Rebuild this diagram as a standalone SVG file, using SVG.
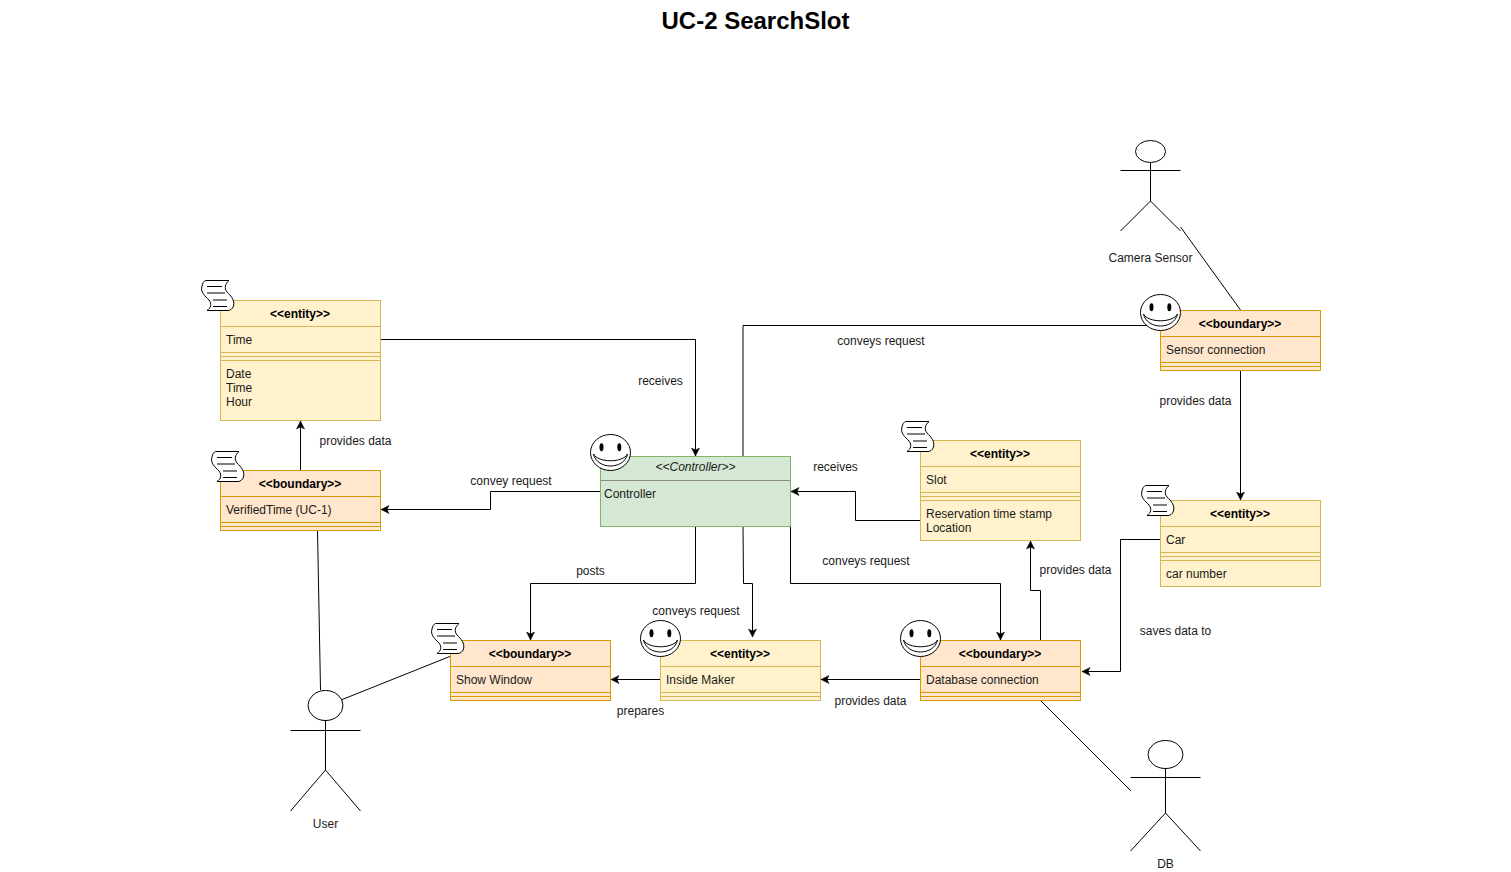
<svg xmlns="http://www.w3.org/2000/svg" width="1511" height="872" viewBox="0 0 1511 872">
<style>
text{font-family:"Liberation Sans",Arial,sans-serif;font-size:12px;fill:#1a1a1a}
.b{font-weight:bold;fill:#000;text-anchor:middle}
.e{fill:#fff2cc;stroke:#d6b656}
.o{fill:#ffe6cc;stroke:#d79b00}
.g{fill:#d5e8d4;stroke:#82b366}
.ln{fill:none;stroke:#000}
.act{fill:#fff;stroke:#000}
.c{text-anchor:middle}
</style>
<defs>
<marker id="a" markerUnits="userSpaceOnUse" markerWidth="12" markerHeight="12" refX="8.500" refY="5" orient="auto"><path d="M.5 1L8.500 5L.5 9L2.500 5Z" fill="#000" stroke="#000" stroke-width=".5"/></marker>
<symbol id="scroll" width="34" height="32" viewBox="0 0 34 32" overflow="visible">
<path d="M4.5 .5H28C24 4 23 8 26 12C30 16 34 20 32.500 26C31.500 29 29 30.500 27 30.500H6C10 28 11 24 8 20C4 16-1 12 1 6C1.500 3 3 1 4.500 .5Z" fill="#fff" stroke="#000"/>
<path d="M6 6.500H21M6 13H24M12 20H26M12 26.500H26" fill="none" stroke="#000"/>
</symbol>
<symbol id="smile" width="42" height="38" viewBox="0 0 42 38" overflow="visible">
<ellipse cx="20.500" cy="18.500" rx="20" ry="18" fill="#fff" stroke="#000"/>
<ellipse cx="11.500" cy="13.300" rx="2" ry="4" fill="#000"/><ellipse cx="29.300" cy="13.300" rx="2" ry="4" fill="#000"/>
<path d="M3.500 20C7 36 34 36 37.500 20C33 29 8 29 3.500 20Z" fill="#fff" stroke="#000"/>
</symbol>
</defs>
<text x="755.500" y="29" class="b" style="font-size:24px">UC-2 SearchSlot</text>
<g id="connectors">
<path class="ln" d="M380.500 339.500H695.500V456" marker-end="url(#a)"/>
<path class="ln" d="M300.500 470V421" marker-end="url(#a)"/>
<path class="ln" d="M600.500 491.500H490.500V509.500H381" marker-end="url(#a)"/>
<path class="ln" d="M695.500 526V583.500H530.500V640" marker-end="url(#a)"/>
<path class="ln" d="M743 526L743.500 583.500H752.500V637" marker-end="url(#a)"/>
<path class="ln" d="M790.500 526V583.500H1000.500V640" marker-end="url(#a)"/>
<path class="ln" d="M743 456V325.500H1160"/>
<path class="ln" d="M920.500 520.500H855.500V491.500H791" marker-end="url(#a)"/>
<path class="ln" d="M1040.500 640V590.500H1030.500V541" marker-end="url(#a)"/>
<path class="ln" d="M1240.500 370V500" marker-end="url(#a)"/>
<path class="ln" d="M1160 539.500H1120.500V671.500H1082" marker-end="url(#a)"/>
<path class="ln" d="M920 679.500H821" marker-end="url(#a)"/>
<path class="ln" d="M660 679.500H611" marker-end="url(#a)"/>
<path class="ln" d="M1240.500 310L1182 229L1180.500 227"/>
<path class="ln" d="M317.500 530L320.500 690"/>
<path class="ln" d="M451 656L341 700"/>
<path class="ln" d="M1040 700L1131 791"/>
</g>
<g id="node-time">
<rect class="e" x="220.500" y="300.500" width="160" height="120"/>
<path class="e" d="M220.500 326.500H380.500M220.500 352.500H380.500M220.500 356.500H380.500M220.500 360.500H380.500"/>
<text x="300" y="318" class="b">&lt;&lt;entity&gt;&gt;</text>
<text x="226" y="344">Time</text>
<text x="226" y="378">Date</text><text x="226" y="392">Time</text><text x="226" y="406">Hour</text>
<use href="#scroll" x="201" y="280"/>
</g>
<g id="node-verified">
<rect class="o" x="220.500" y="470.500" width="160" height="60"/>
<path class="o" d="M220.500 496.500H380.500M220.500 522.500H380.500M220.500 526.500H380.500"/>
<text x="300" y="488" class="b">&lt;&lt;boundary&gt;&gt;</text>
<text x="226" y="514">VerifiedTime (UC-1)</text>
<use href="#scroll" x="211" y="451"/>
</g>
<g id="node-controller">
<rect class="g" x="600.500" y="456.500" width="190" height="70"/>
<path d="M601 480.500H790" stroke="#888" fill="none"/>
<text x="695.500" y="471" class="c" font-style="italic">&lt;&lt;Controller&gt;&gt;</text>
<text x="604" y="498">Controller</text>
<use href="#smile" x="590" y="434"/>
</g>
<g id="node-slot">
<rect class="e" x="920.500" y="440.500" width="160" height="100"/>
<path class="e" d="M920.500 466.500H1080.500M920.500 492.500H1080.500M920.500 496.500H1080.500M920.500 500.500H1080.500"/>
<text x="1000" y="458" class="b">&lt;&lt;entity&gt;&gt;</text>
<text x="926" y="484">Slot</text>
<text x="926" y="518">Reservation time stamp</text><text x="926" y="532">Location</text>
<use href="#scroll" x="901" y="421"/>
</g>
<g id="node-sensor">
<rect class="o" x="1160.500" y="310.500" width="160" height="60"/>
<path class="o" d="M1160.500 336.500H1320.500M1160.500 362.500H1320.500M1160.500 366.500H1320.500"/>
<text x="1240" y="328" class="b">&lt;&lt;boundary&gt;&gt;</text>
<text x="1166" y="354">Sensor connection</text>
<use href="#smile" x="1140" y="294"/>
</g>
<g id="node-car">
<rect class="e" x="1160.500" y="500.500" width="160" height="86"/>
<path class="e" d="M1160.500 526.500H1320.500M1160.500 552.500H1320.500M1160.500 556.500H1320.500M1160.500 560.500H1320.500"/>
<text x="1240" y="518" class="b">&lt;&lt;entity&gt;&gt;</text>
<text x="1166" y="544">Car</text>
<text x="1166" y="578">car number</text>
<use href="#scroll" x="1141" y="485"/>
</g>
<g id="node-showwindow">
<rect class="o" x="450.500" y="640.500" width="160" height="60"/>
<path class="o" d="M450.500 666.500H610.500M450.500 692.500H610.500M450.500 696.500H610.500"/>
<text x="530" y="658" class="b">&lt;&lt;boundary&gt;&gt;</text>
<text x="456" y="684">Show Window</text>
<use href="#scroll" x="431" y="623"/>
</g>
<g id="node-insidemaker">
<rect class="e" x="660.500" y="640.500" width="160" height="60"/>
<path class="e" d="M660.500 666.500H820.500M660.500 692.500H820.500M660.500 696.500H820.500"/>
<text x="740" y="658" class="b">&lt;&lt;entity&gt;&gt;</text>
<text x="666" y="684">Inside Maker</text>
<use href="#smile" x="640" y="620"/>
</g>
<g id="node-database">
<rect class="o" x="920.500" y="640.500" width="160" height="60"/>
<path class="o" d="M920.500 666.500H1080.500M920.500 692.500H1080.500M920.500 696.500H1080.500"/>
<text x="1000" y="658" class="b">&lt;&lt;boundary&gt;&gt;</text>
<text x="926" y="684">Database connection</text>
<use href="#smile" x="900" y="620"/>
</g>
<g id="actor-camera">
<ellipse class="act" cx="1150.500" cy="151.500" rx="15" ry="11"/>
<path class="ln" d="M1150.500 163V201M1120.500 170.500H1180.500M1120.500 231L1150.500 201L1180.500 231"/>
<text x="1150.500" y="262" class="c">Camera Sensor</text>
</g>
<g id="actor-user">
<ellipse class="act" cx="325.500" cy="705.500" rx="17.500" ry="15"/>
<path class="ln" d="M325.500 720V770M290.500 730.500H360.500M290.500 811L325.500 770L360.500 811"/>
<text x="325.500" y="828" class="c">User</text>
</g>
<g id="actor-db">
<ellipse class="act" cx="1165.500" cy="754.500" rx="17.500" ry="14"/>
<path class="ln" d="M1165.500 768V813M1130.500 777.500H1200.500M1130.500 851L1165.500 813L1200.500 851"/>
<text x="1165.500" y="868" class="c">DB</text>
</g>
<g id="labels">
<text x="881" y="345" class="c">conveys request</text>
<text x="660.500" y="385" class="c">receives</text>
<text x="355.500" y="445" class="c">provides data</text>
<text x="511" y="485" class="c">convey request</text>
<text x="835.500" y="471" class="c">receives</text>
<text x="1195.500" y="405" class="c">provides data</text>
<text x="866" y="565" class="c">conveys request</text>
<text x="1075.500" y="574" class="c">provides data</text>
<text x="590.500" y="575" class="c">posts</text>
<text x="696" y="615" class="c">conveys request</text>
<text x="1175.500" y="635" class="c">saves data to</text>
<text x="640.500" y="715" class="c">prepares</text>
<text x="870.500" y="705" class="c">provides data</text>
</g>
</svg>
